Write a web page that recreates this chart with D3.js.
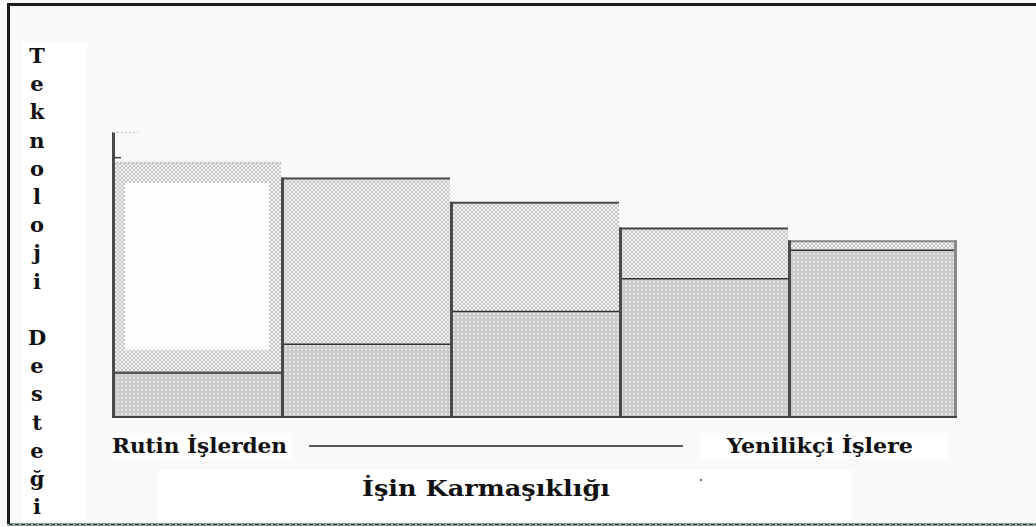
<!DOCTYPE html>
<html>
<head>
<meta charset="utf-8">
<script src="https://cdn.jsdelivr.net/npm/d3@7"></script>
<style>
  body { margin: 0; background: #f9f9f9; }
  svg { display: block; }
  .lbl { font-family: "DejaVu Serif", "Liberation Serif", serif; font-weight: bold; fill: #111; }
</style>
</head>
<body>
<div id="chart"></div>
<script>
// five steps from routine to innovative work
var steps = ["1", "2", "3", "4", "5"];
// dark dotted part: technology support
var destek = [15.5, 25.5, 37, 48.5, 58.5];
// top of the whole bar
var toplam = [89.5, 84, 75.5, 66.5, 62];

var yTitle = "Teknoloji Desteği";
var xTitle = "İşin Karmaşıklığı";
var leftLabel = "Rutin İşlerden";
var rightLabel = "Yenilikçi İşlere";

(function() {
  var width = 1036, height = 527;

  var svg = d3.select("#chart")
    .append("svg")
    .attr("width", width)
    .attr("height", height);

  var defs = svg.append("defs");

  // dotted grey fill
  var dots = defs.append("pattern")
    .attr("id", "dots")
    .attr("patternUnits", "userSpaceOnUse")
    .attr("width", 4).attr("height", 4);
  dots.append("rect").attr("width", 4).attr("height", 4).attr("fill", "#cbcbcb");
  dots.append("rect").attr("x", 1).attr("y", 1).attr("width", 1.5).attr("height", 1.5).attr("fill", "#f6f6f6");

  // light cross hatch fill
  var hatch = defs.append("pattern")
    .attr("id", "hatch")
    .attr("patternUnits", "userSpaceOnUse")
    .attr("width", 4).attr("height", 4);
  hatch.append("rect").attr("width", 4).attr("height", 4).attr("fill", "#f1f1f1");
  hatch.append("path").attr("d", "M0,0L4,4M4,0L0,4")
    .attr("stroke", "#bdbdbd").attr("stroke-width", 0.8);

  // frame
  svg.append("rect").attr("x", 0).attr("y", 0).attr("width", width).attr("height", height).attr("fill", "#f9f9f9");
  svg.append("line").attr("x1", 7).attr("x2", width).attr("y1", 4.5).attr("y2", 4.5)
    .attr("stroke", "#1c1c1c").attr("stroke-width", 3);
  svg.append("line").attr("x1", 8.5).attr("x2", 8.5).attr("y1", 3).attr("y2", 525)
    .attr("stroke", "#1c1c1c").attr("stroke-width", 3);
  svg.append("line").attr("x1", 7).attr("x2", width).attr("y1", 524.5).attr("y2", 524.5)
    .attr("stroke", "#2a3a3a").attr("stroke-width", 2);
  svg.append("line").attr("x1", 7).attr("x2", width).attr("y1", 524.5).attr("y2", 524.5)
    .attr("stroke", "#7fd0d0").attr("stroke-width", 1).attr("stroke-dasharray", "2,4");

  // white panels behind texts
  svg.append("rect").attr("x", 22).attr("y", 42).attr("width", 65).attr("height", 478).attr("fill", "#fff");
  svg.append("rect").attr("x", 112).attr("y", 433).attr("width", 180).attr("height", 27).attr("fill", "#fff");
  svg.append("rect").attr("x", 700).attr("y", 433).attr("width", 248).attr("height", 26).attr("fill", "#fff");
  svg.append("rect").attr("x", 157).attr("y", 470).attr("width", 695).attr("height", 50).attr("fill", "#fff");

  var xPositionScale = d3.scaleBand().domain(steps).range([112, 957]).paddingInner(0).paddingOuter(0);
  var yPositionScale = d3.scaleLinear().domain([0, 100]).range([417, 132]);

  var data = steps.map(function(s, i) {
    return { step: s, destek: destek[i], toplam: toplam[i], i: i };
  });

  var bw = xPositionScale.bandwidth();

  // upper cross hatch part
  svg.selectAll(".ust")
    .data(data)
    .enter().append("rect")
    .attr("class", "ust")
    .attr("x", function(d) { return xPositionScale(d.step); })
    .attr("y", function(d) { return yPositionScale(d.toplam); })
    .attr("width", bw)
    .attr("height", function(d) { return yPositionScale(d.destek) - yPositionScale(d.toplam); })
    .attr("fill", "url(#hatch)");

  // first bar has a plain white inside
  svg.selectAll(".ic")
    .data(data.filter(function(d) { return d.i == 0; }))
    .enter().append("rect")
    .attr("class", "ic")
    .attr("x", function(d) { return xPositionScale(d.step) + 13; })
    .attr("y", function(d) { return yPositionScale(d.toplam) + 21; })
    .attr("width", bw - 25)
    .attr("height", function(d) { return yPositionScale(d.destek) - yPositionScale(d.toplam) - 44; })
    .attr("fill", "#fdfdfd");

  // lower dotted part
  svg.selectAll(".alt")
    .data(data)
    .enter().append("rect")
    .attr("class", "alt")
    .attr("x", function(d) { return xPositionScale(d.step); })
    .attr("y", function(d) { return yPositionScale(d.destek); })
    .attr("width", bw)
    .attr("height", function(d) { return yPositionScale(0) - yPositionScale(d.destek); })
    .attr("fill", "url(#dots)");

  // top edges
  svg.selectAll(".ust-cizgi")
    .data(data)
    .enter().append("line")
    .attr("class", "ust-cizgi")
    .attr("x1", function(d) { return xPositionScale(d.step); })
    .attr("x2", function(d) { return xPositionScale(d.step) + bw; })
    .attr("y1", function(d) { return yPositionScale(d.toplam) + 1; })
    .attr("y2", function(d) { return yPositionScale(d.toplam) + 1; })
    .attr("stroke", function(d) { return d.i == 0 ? "#c4c4c4" : (d.i == 4 ? "#8a8a8a" : "#4a4a4a"); })
    .attr("stroke-width", 2)
    .attr("stroke-dasharray", function(d) { return d.i == 0 ? "2,2" : null; });

  // division between the two parts
  svg.selectAll(".bolme")
    .data(data)
    .enter().append("line")
    .attr("class", "bolme")
    .attr("x1", function(d) { return xPositionScale(d.step); })
    .attr("x2", function(d) { return xPositionScale(d.step) + bw; })
    .attr("y1", function(d) { return yPositionScale(d.destek); })
    .attr("y2", function(d) { return yPositionScale(d.destek); })
    .attr("stroke", function(d) { return d.i == 0 ? "#5a5a5a" : "#333"; })
    .attr("stroke-width", function(d) { return d.i == 0 ? 2.5 : 1.5; });

  // dark left edge of each bar
  svg.selectAll(".kenar")
    .data(data)
    .enter().append("line")
    .attr("class", "kenar")
    .attr("x1", function(d) { return xPositionScale(d.step) + 1.5; })
    .attr("x2", function(d) { return xPositionScale(d.step) + 1.5; })
    .attr("y1", function(d) { return d.i == 0 ? yPositionScale(100) : yPositionScale(d.toplam); })
    .attr("y2", yPositionScale(0))
    .attr("stroke", "#4a4a4a")
    .attr("stroke-width", 3);

  // right edge of last bar
  svg.append("line")
    .attr("x1", xPositionScale(steps[4]) + bw - 1.5)
    .attr("x2", xPositionScale(steps[4]) + bw - 1.5)
    .attr("y1", yPositionScale(toplam[4]))
    .attr("y2", yPositionScale(0))
    .attr("stroke", "#8a8a8a")
    .attr("stroke-width", 3);

  // small marks at the top of the axis
  svg.append("line")
    .attr("x1", 113).attr("x2", 138)
    .attr("y1", yPositionScale(100) + 0.5).attr("y2", yPositionScale(100) + 0.5)
    .attr("stroke", "#bbb").attr("stroke-dasharray", "2,2");
  svg.append("line")
    .attr("x1", 113).attr("x2", 121)
    .attr("y1", yPositionScale(91)).attr("y2", yPositionScale(91))
    .attr("stroke", "#444").attr("stroke-width", 1.5);

  // base line
  svg.append("line")
    .attr("x1", 112).attr("x2", 957)
    .attr("y1", yPositionScale(0)).attr("y2", yPositionScale(0))
    .attr("stroke", "#444").attr("stroke-width", 2);

  // vertical title, one letter under the other
  svg.append("g").selectAll("text")
    .data(yTitle.split(""))
    .enter().append("text")
    .attr("class", "lbl")
    .attr("x", 37)
    .attr("y", function(d, i) { return 63 + i * 28.2; })
    .attr("text-anchor", "middle")
    .style("font-size", "21px")
    .style("font-weight", "900")
    .text(function(d) { return d; });

  // bottom labels
  svg.append("text")
    .attr("class", "lbl")
    .attr("x", 112).attr("y", 453)
    .attr("textLength", 175).attr("lengthAdjust", "spacingAndGlyphs")
    .style("font-size", "20px")
    .text(leftLabel);

  svg.append("line")
    .attr("x1", 309).attr("x2", 683)
    .attr("y1", 446).attr("y2", 446)
    .attr("stroke", "#222").attr("stroke-width", 1.3);

  svg.append("text")
    .attr("class", "lbl")
    .attr("x", 727).attr("y", 453)
    .attr("textLength", 186).attr("lengthAdjust", "spacingAndGlyphs")
    .style("font-size", "20px")
    .text(rightLabel);

  svg.append("text")
    .attr("class", "lbl")
    .attr("x", 362).attr("y", 496)
    .attr("textLength", 248).attr("lengthAdjust", "spacingAndGlyphs")
    .style("font-size", "22px")
    .text(xTitle);

  svg.append("circle").attr("cx", 701).attr("cy", 480).attr("r", 1).attr("fill", "#444");
})();
</script>
</body>
</html>
